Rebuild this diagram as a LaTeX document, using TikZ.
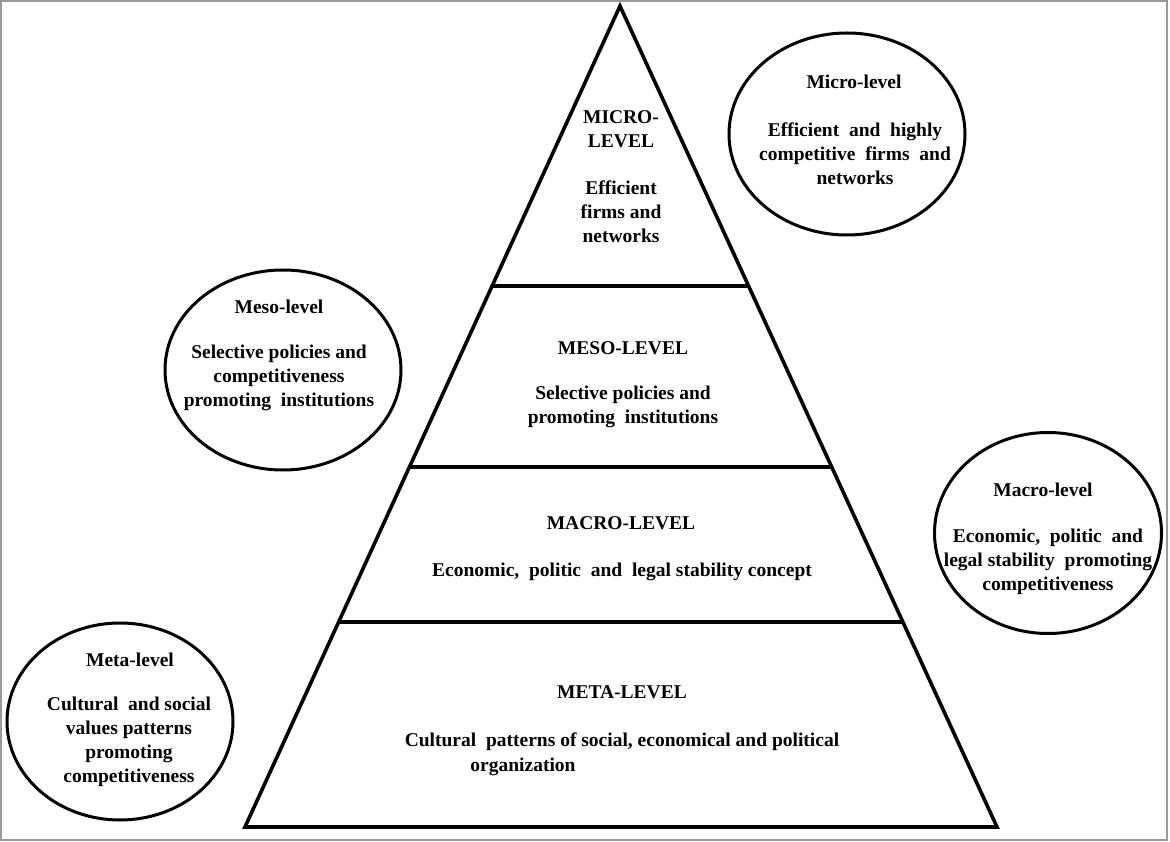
\documentclass[tikz,border=0pt]{standalone}
\usepackage{fontspec}
\setmainfont{Liberation Serif}
\usetikzlibrary{calc,shapes.geometric}
\begin{document}
\begin{tikzpicture}[x=1pt,y=-1pt,
  txt/.style={font=\fontsize{19.5}{24}\selectfont\bfseries, align=center, inner sep=0pt, text=black},
  bubble/.style={ellipse, draw=black, line width=3pt, inner sep=0pt},
  tier/.style={draw=black, line width=3.6pt}]
  % canvas and thin grey frame
  \useasboundingbox (0,0) rectangle (1170,842);
  \draw[gray!80, line width=2pt] (1,1) rectangle (1167,840);

  % pyramid corners and tier boundaries
  \coordinate (apex) at (620,6);
  \coordinate (bl) at (245,827);
  \coordinate (br) at (997,827);
  \draw[tier, line join=miter] (apex) -- (bl) -- (br) -- cycle;
  \coordinate (l1) at ($(apex)!0.341!(bl)$);
  \coordinate (r1) at ($(apex)!0.341!(br)$);
  \coordinate (l2) at ($(apex)!0.5615!(bl)$);
  \coordinate (r2) at ($(apex)!0.5615!(br)$);
  \coordinate (l3) at ($(apex)!0.750!(bl)$);
  \coordinate (r3) at ($(apex)!0.750!(br)$);
  \draw[tier] (l1) -- (r1);
  \draw[tier] (l2) -- (r2);
  \draw[tier] (l3) -- (r3);

  % texts inside the pyramid
  \node[txt] (microT) at (621,129) {MICRO-\\LEVEL};
  \node[txt] (microB) at (621,212) {Efficient\\firms and\\networks};
  \node[txt] (mesoT) at (623,348) {MESO-LEVEL};
  \node[txt] (mesoB) at (623,406.5) {Selective policies and\\promoting\ \ institutions};
  \node[txt] (macroT) at (621,523) {MACRO-LEVEL};
  \node[txt] (macroB) at (622,572) {Economic,\ \ politic\ \ and\ \ legal stability concept};
  \node[txt] (metaT) at (622,692) {META-LEVEL};
  \node[txt] (metaB) at (622,742) {Cultural\ \ patterns of social, economical and political};
  \node[txt] (metaC) at (523,767) {organization};

  % side bubbles
  \node[bubble, minimum width=236pt, minimum height=202pt] (microE) at (847,134) {};
  \node[txt] (microET) at (854,82) {Micro-level};
  \node[txt] (microEB) at (855,154) {Efficient\ \ and\ \ highly\\competitive\ \ firms\ \ and\\networks};

  \node[bubble, minimum width=236pt, minimum height=200pt] (mesoE) at (283,370) {};
  \node[txt] (mesoET) at (279,307) {Meso-level};
  \node[txt] (mesoEB) at (279,378) {Selective policies and\\competitiveness\\promoting\ \ institutions};

  \node[bubble, minimum width=227pt, minimum height=201pt] (macroE) at (1048,533) {};
  \node[txt] (macroET) at (1043,490) {Macro-level};
  \node[txt] (macroEB) at (1048,562) {Economic,\ \ politic\ \ and\\legal stability\ \ promoting\\competitiveness};

  \node[bubble, minimum width=226pt, minimum height=197pt] (metaE) at (120,721.5) {};
  \node[txt] (metaET) at (130,660) {Meta-level};
  \node[txt] (metaEB) at (129,742) {Cultural\ \ and social\\values patterns\\promoting\\competitiveness};
\end{tikzpicture}
\end{document}
